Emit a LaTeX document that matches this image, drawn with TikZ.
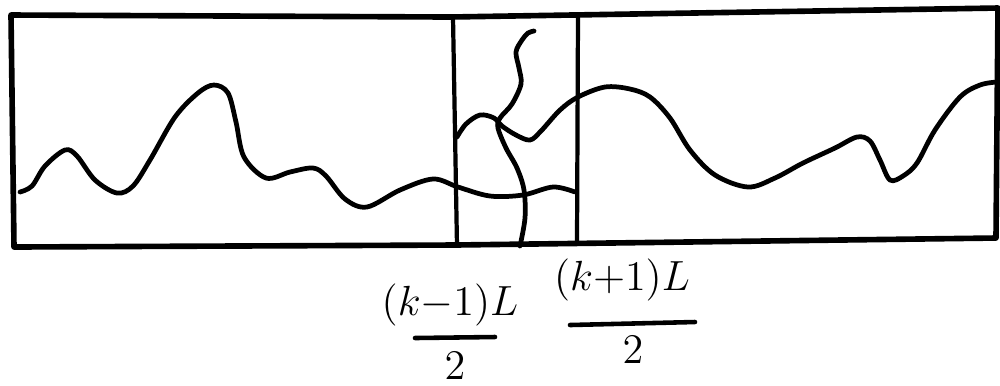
\documentclass[tikz,border=0pt]{standalone}
\usetikzlibrary{calc}

\tikzset{
  frame/.style={line width=1.6pt, line join=round},
  divider/.style={line width=1.2pt},
  trace/.style={line width=1.35pt, line cap=round, smooth, tension=0.55},
  fracbar/.style={line width=1.3pt, line cap=round},
  lbl/.style={font=\large, inner sep=1pt}
}

\begin{document}
\begin{tikzpicture}[x=0.1mm, y=-0.1mm]
  \useasboundingbox (0,0) rectangle (1000,385);

  % outer strip
  \draw[frame] (11,15) -- (450,17) -- (998,8) -- (996,238) -- (455,245) -- (14,247) -- cycle;

  % the two cuts
  \coordinate (cutLtop) at (453,17);
  \coordinate (cutLbot) at (457,246);
  \coordinate (cutRtop) at (578,15);
  \coordinate (cutRbot) at (577,244);
  \draw[divider] (cutLtop) -- (cutLbot);
  \draw[divider] (cutRtop) -- (cutRbot);

  % lower wave, left end to right cut
  \draw[trace] plot coordinates {
    (20,192) (32,186) (45,166) (65,150) (77,156) (95,180) (117,193)
    (133,186) (150,160) (175,117) (198,93) (214,85) (228,93) (236,122)
    (244,157) (266,178) (290,172) (313,168) (326,176) (345,199) (367,207)
    (400,190) (433,179) (458,187) (490,196) (523,195) (553,187) (575,192)};

  % upper wave, left cut to right end
  \draw[trace] plot coordinates {
    (457,137) (466,124) (480,115) (494,118) (502,126) (516,135) (530,140)
    (541,131) (560,110) (578,97) (605,87) (630,89) (650,97) (670,118)
    (690,150) (715,175) (748,187) (775,178) (803,163) (835,148) (857,137)
    (870,141) (880,160) (890,180) (903,176) (917,163) (935,130) (960,97)
    (980,85) (997,82)};

  % crossing strand
  \draw[trace] plot coordinates {
    (534,31) (528,33) (522,40) (516,52) (519,68) (521,84) (512,104)
    (500,118) (498,128) (506,148) (517,168) (524,190) (525,218) (520,246)};

  % cut positions
  \node[lbl] (numL) at (450,305) {$(k{-}1)L$};
  \node[lbl] (denL) at (455,366) {$2$};
  \draw[fracbar] (415,338) -- (495,337);
  \node[lbl] (numR) at (622,280) {$(k{+}1)L$};
  \node[lbl] (denR) at (633,350) {$2$};
  \draw[fracbar] (570,325) -- (695,322);
\end{tikzpicture}
\end{document}
